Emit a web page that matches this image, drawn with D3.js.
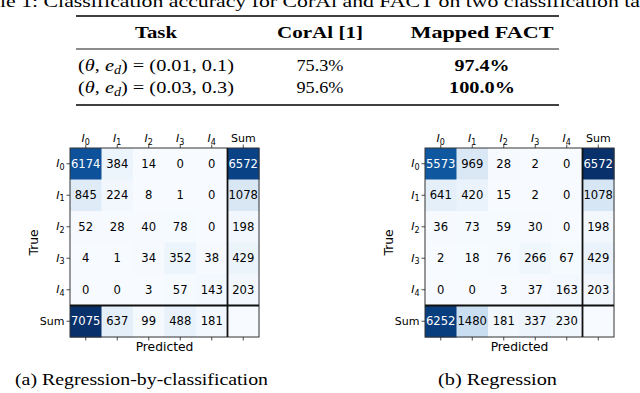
<!DOCTYPE html>
<html>
<head>
<meta charset="utf-8">
<script src="https://cdn.jsdelivr.net/npm/d3@7"></script>
<style>
  body { margin: 0; background: #fff; }
  svg { display: block; }
</style>
</head>
<body>
<svg id="fig" width="640" height="393"></svg>
<script>
// ---- data ----
var tickNames = ["0", "1", "2", "3", "4", "Sum"];

// rows = true class I0..I4 then Sum, columns = predicted I0..I4 then Sum
var regClsValues = [
    [6174, 384, 14, 0, 0, 6572],
    [845, 224, 8, 1, 0, 1078],
    [52, 28, 40, 78, 0, 198],
    [4, 1, 34, 352, 38, 429],
    [0, 0, 3, 57, 143, 203],
    [7075, 637, 99, 488, 181, null]
];
var regValues = [
    [5573, 969, 28, 2, 0, 6572],
    [641, 420, 15, 2, 0, 1078],
    [36, 73, 59, 30, 0, 198],
    [2, 18, 76, 266, 67, 429],
    [0, 0, 3, 37, 163, 203],
    [6252, 1480, 181, 337, 230, null]
];
var captions = ["(a) Regression-by-classification", "(b) Regression"];

var tableTitle = "Table 1: Classification accuracy for CorAl and FACT on two classification tasks";
var tableHeader = ["Task", "CorAl [1]", "Mapped FACT"];
var taskParams = ["(0.01, 0.1)", "(0.03, 0.3)"];
var coralAcc = ["75.3%", "95.6%"];
var factAcc = ["97.4%", "100.0%"];

var svg = d3.select("#fig");
var serif = "'Liberation Serif', 'Times New Roman', serif";
var sans = "'DejaVu Sans', sans-serif";

// stretch a text element to a measured width (CM is wider than Times)
function fit(sel, w){
    sel.attr("textLength", w).attr("lengthAdjust", "spacingAndGlyphs");
    return sel;
}

// ---------------- table ----------------
var tbl = svg.append("g").attr("font-family", serif).attr("font-size", 16.5).attr("fill", "#000");

// title is cut off at both sides in the original crop, keep it that way
var title = tbl.append("text").attr("y", 7).text(tableTitle);
(function(){
    var node = title.node();
    var pre = node.getSubStringLength(0, 3);
    var vis = node.getSubStringLength(3, tableTitle.length - 6);
    var full = node.getComputedTextLength();
    var k = 640 / vis;
    title.attr("x", -pre * k);
    fit(title, full * k);
})();

var ruleX = [76, 559];
[{y: 16, w: 1.6}, {y: 49, w: 0.9}, {y: 105, w: 1.6}].forEach(function(r){
    tbl.append("line")
        .attr("x1", ruleX[0]).attr("x2", ruleX[1])
        .attr("y1", r.y).attr("y2", r.y)
        .attr("stroke", "#000").attr("stroke-width", r.w);
});

var colCenter = [156, 320, 482];
var headW = [42, 86, 143];
tableHeader.forEach(function(h, i){
    fit(tbl.append("text")
        .attr("x", colCenter[i]).attr("y", 38)
        .attr("text-anchor", "middle").attr("font-weight", "bold")
        .text(h), headW[i]);
});

var rowY = [71, 92.5];
taskParams.forEach(function(p, i){
    var t = tbl.append("text").attr("x", 78).attr("y", rowY[i]);
    t.append("tspan").text("(");
    t.append("tspan").attr("font-style", "italic").text("\u03b8");
    t.append("tspan").text(", ");
    t.append("tspan").attr("font-style", "italic").text("e");
    t.append("tspan").attr("font-style", "italic").attr("font-size", 11.5).attr("dy", 3).text("d");
    t.append("tspan").attr("dy", -3).text(") = " + p);
    fit(t, 156);

    fit(tbl.append("text")
        .attr("x", colCenter[1]).attr("y", rowY[i])
        .attr("text-anchor", "middle").text(coralAcc[i]), 47);
    fit(tbl.append("text")
        .attr("x", colCenter[2]).attr("y", rowY[i])
        .attr("text-anchor", "middle").attr("font-weight", "bold")
        .text(factAcc[i]), i == 0 ? 55 : 66);
});

// ---------------- confusion matrices ----------------
function tickLabel(textSel){
    textSel.each(function(d){
        var t = d3.select(this).text(null);
        if(tickNames[d] == "Sum"){
            t.text("Sum");
        }else{
            t.append("tspan").attr("font-style", "italic").text("I");
            t.append("tspan").attr("font-size", 8).attr("dy", 2.5).text(tickNames[d]);
        }
    });
}

function drawMatrix(values, left, top, size, trueX, caption, capX, capW){
    var g = svg.append("g").attr("font-family", sans);
    var idx = d3.range(tickNames.length);
    var x = d3.scaleBand().domain(idx).range([left, left + size]);
    var y = d3.scaleBand().domain(idx).range([top, top + size]);
    var vmax = d3.max(values, function(r){ return d3.max(r); });
    var color = d3.scaleSequential(d3.interpolateBlues).domain([0, vmax]);

    var cells = [];
    values.forEach(function(row, i){
        row.forEach(function(v, j){ cells.push({i: i, j: j, v: v}); });
    });

    g.selectAll("rect.cell").data(cells).join("rect")
        .attr("class", "cell")
        .attr("x", function(d){ return x(d.j); })
        .attr("y", function(d){ return y(d.i); })
        .attr("width", x.bandwidth() + 0.5)
        .attr("height", y.bandwidth() + 0.5)
        .attr("fill", function(d){ return color(d.v == null ? 0 : d.v); });

    g.selectAll("text.val").data(cells.filter(function(d){ return d.v != null; })).join("text")
        .attr("class", "val")
        .attr("x", function(d){ return x(d.j) + x.bandwidth() / 2; })
        .attr("y", function(d){ return y(d.i) + y.bandwidth() / 2; })
        .attr("dy", "0.36em")
        .attr("text-anchor", "middle")
        .attr("font-size", 11.6)
        .attr("fill", function(d){ return d.v > vmax / 2 ? "#fff" : "#000"; })
        .text(function(d){ return d.v; });

    // frame and the separators before the Sum row / column
    g.append("rect")
        .attr("x", left).attr("y", top).attr("width", size).attr("height", size)
        .attr("fill", "none").attr("stroke", "#333").attr("stroke-width", 1);
    g.append("line")
        .attr("x1", x(5)).attr("x2", x(5)).attr("y1", top).attr("y2", top + size)
        .attr("stroke", "#111").attr("stroke-width", 1.8);
    g.append("line")
        .attr("x1", left).attr("x2", left + size).attr("y1", y(5)).attr("y2", y(5))
        .attr("stroke", "#111").attr("stroke-width", 1.8);

    // axes
    var axTop = g.append("g").attr("transform", "translate(0," + top + ")")
        .call(d3.axisTop(x).tickSize(3.5).tickPadding(2.5));
    var axLeft = g.append("g").attr("transform", "translate(" + left + ",0)")
        .call(d3.axisLeft(y).tickSize(3.5).tickPadding(2));
    var axBot = g.append("g").attr("transform", "translate(0," + (top + size) + ")")
        .call(d3.axisBottom(x).tickSize(3.5).tickFormat(""));
    [axTop, axLeft, axBot].forEach(function(a){
        a.attr("font-family", sans).attr("font-size", 11);
        a.select(".domain").remove();
        a.selectAll(".tick line").attr("stroke", "#222").attr("stroke-width", 0.8);
        a.selectAll(".tick text").attr("fill", "#000");
    });
    axTop.selectAll(".tick text").call(tickLabel);
    axLeft.selectAll(".tick text").call(tickLabel);

    g.append("text")
        .attr("x", left + size / 2).attr("y", 351)
        .attr("text-anchor", "middle").attr("font-size", 12.3)
        .text("Predicted");
    g.append("text")
        .attr("transform", "translate(" + trueX + "," + (top + size / 2) + ") rotate(-90)")
        .attr("text-anchor", "middle").attr("font-size", 12.3)
        .text("True");

    fit(svg.append("text")
        .attr("x", capX).attr("y", 385)
        .attr("font-family", serif).attr("font-size", 16.5)
        .text(caption), capW);
}

drawMatrix(regClsValues, 70, 148, 189, 38, captions[0], 15, 253);
drawMatrix(regValues, 425, 148, 189, 393, captions[1], 438, 119);
</script>
</body>
</html>
